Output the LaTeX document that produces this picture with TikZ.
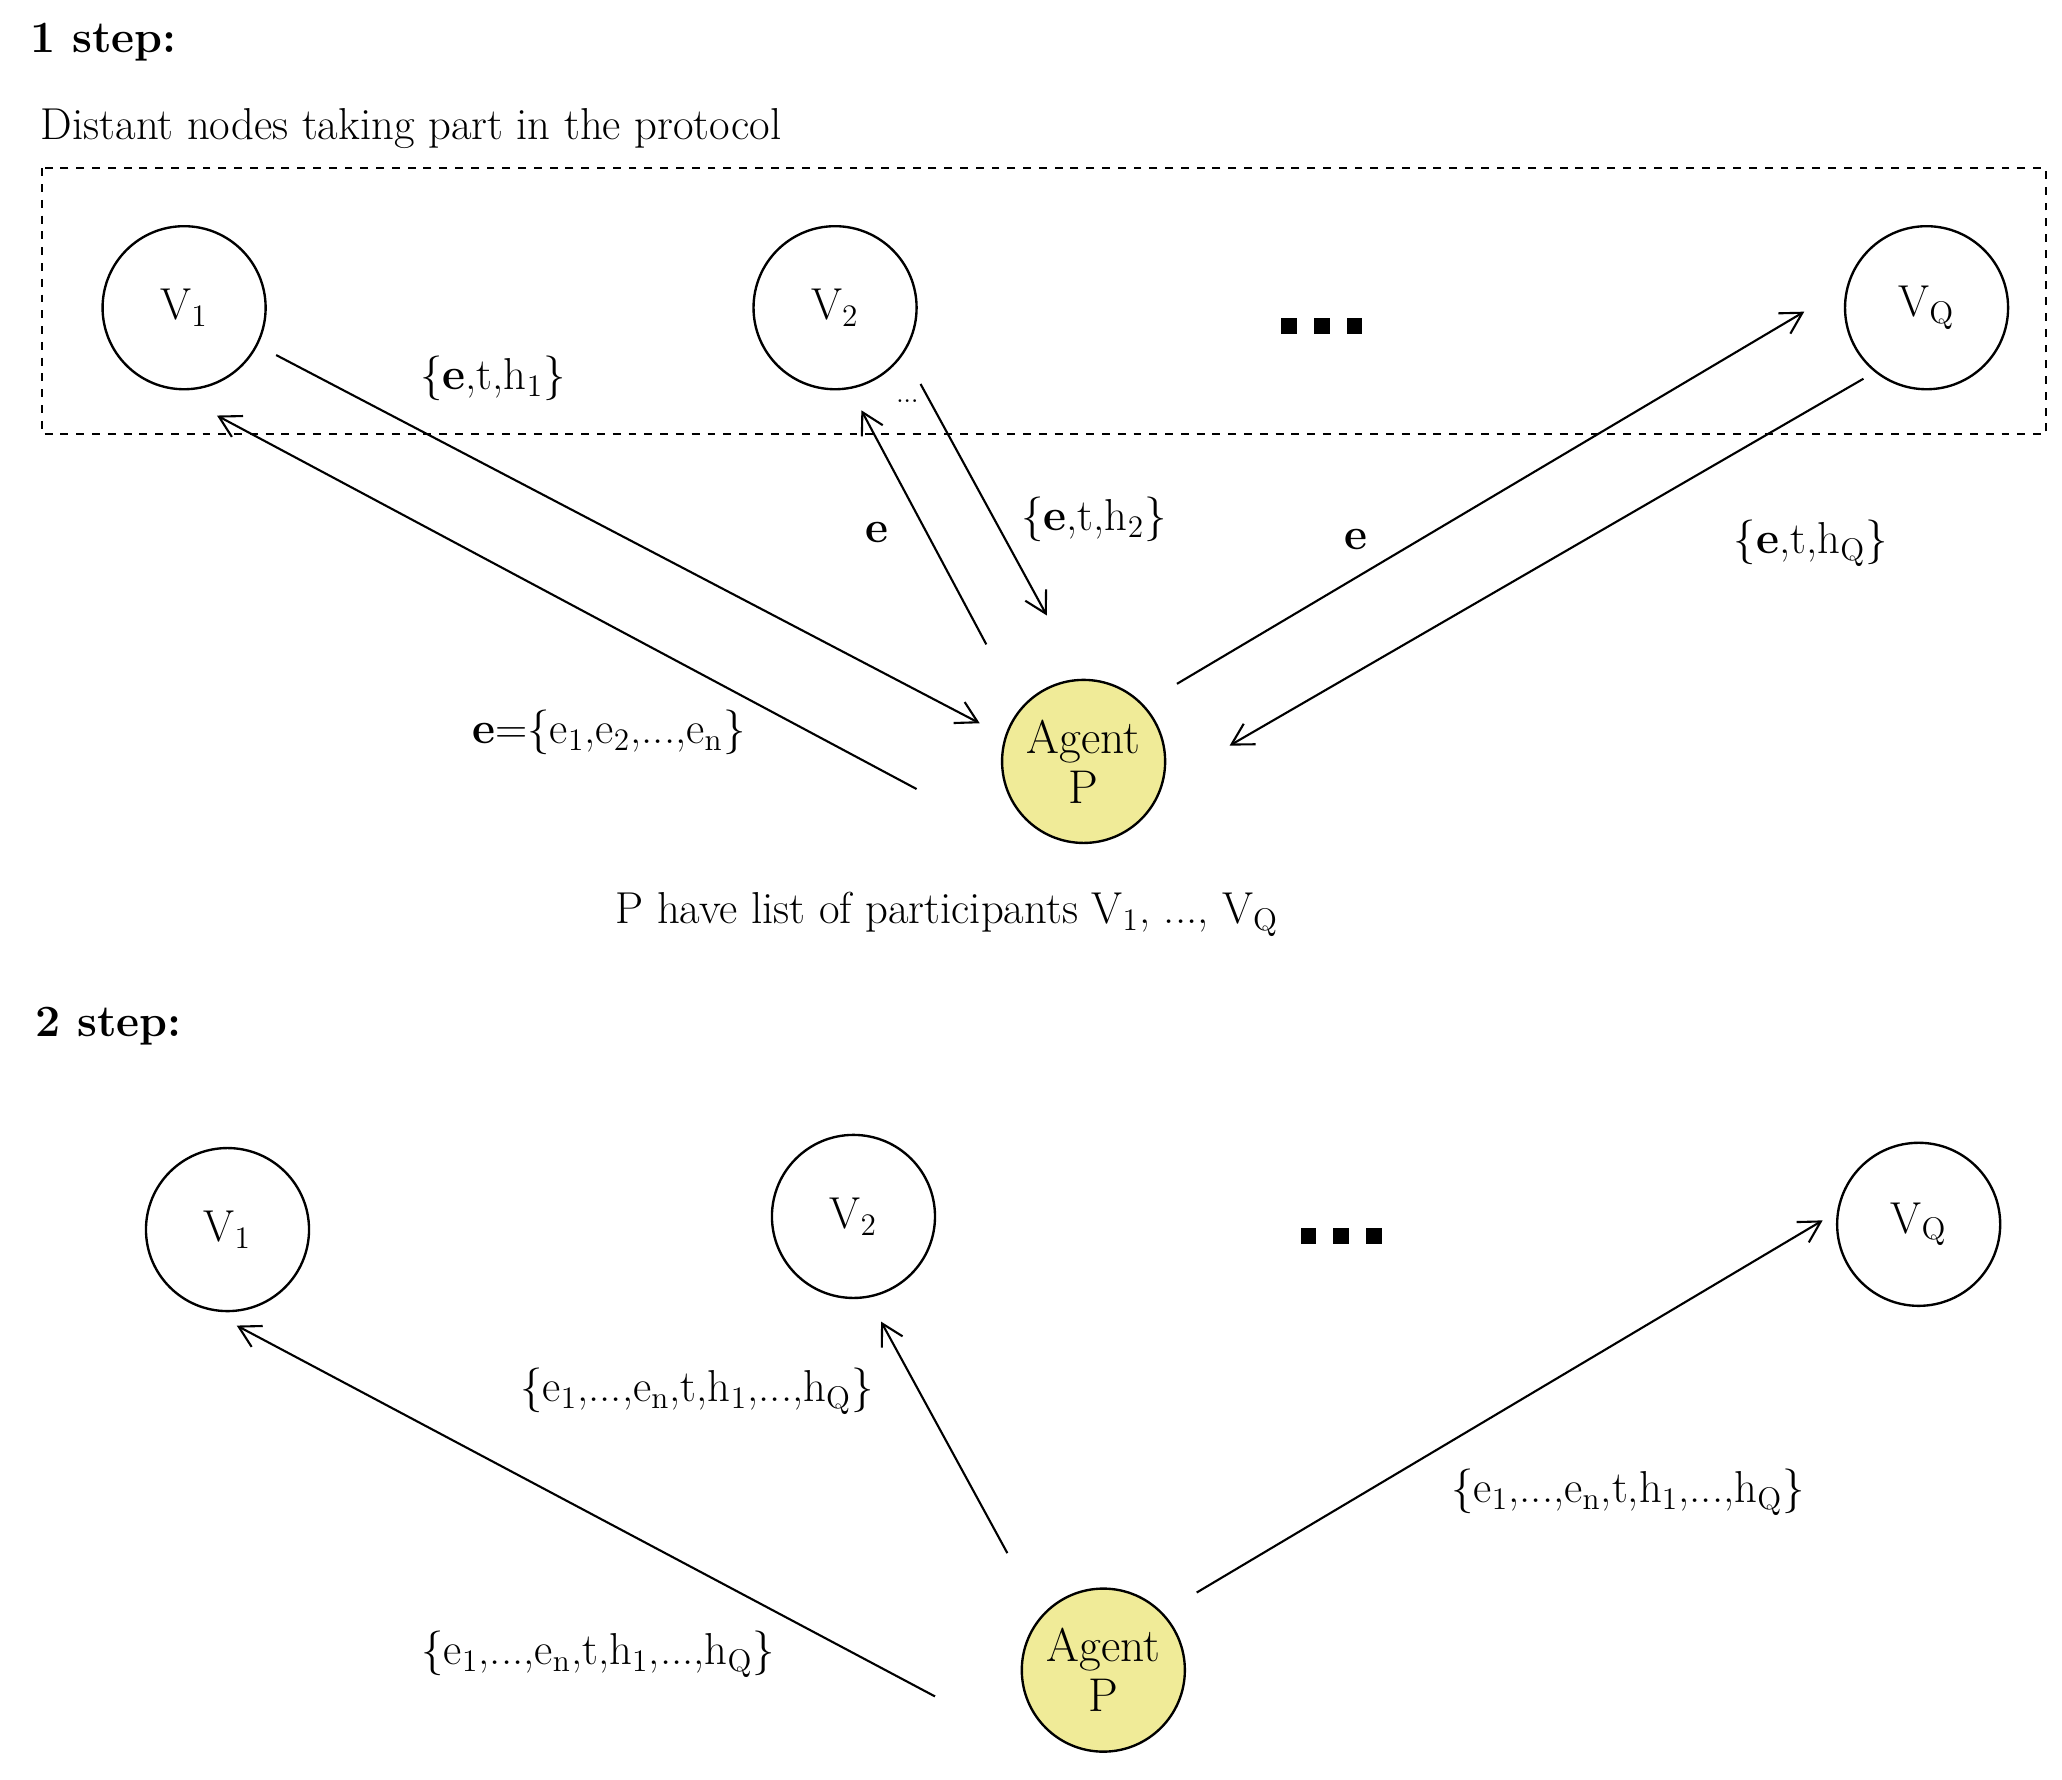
\documentclass[tikz,border=0pt]{standalone}
\usetikzlibrary{arrows.meta}
\definecolor{agentY}{HTML}{F0EB98}
\newcommand{\sbs}[1]{\textsubscript{#1}}
\begin{document}
\begin{tikzpicture}[x=0.5pt,y=-0.5pt,
  every node/.style={font=\fontsize{17}{20}\selectfont},
  vn/.style={circle,draw,line width=0.9pt,minimum size=62pt,inner sep=0pt},
  ag/.style={vn,fill=agentY,align=center,font=\fontsize{18}{19}\selectfont},
  ar/.style={line width=0.8pt,-{Straight Barb[length=8pt,width=9pt]}},
  lb/.style={inner sep=1pt}]
\useasboundingbox (0,0) rectangle (1568,1353);
\node[anchor=west,font=\fontsize{17}{20}\selectfont\bfseries] (s1) at (16,32) {1 step:};
\node[anchor=west] (dt) at (24,98) {Distant nodes taking part in the protocol};
\draw[dashed,line width=0.8pt] (32,128) rectangle (1556,330);
\node[vn] (a1) at (140,234) {V\sbs{1}};
\node[vn] (a2) at (635,234) {V\sbs{2}};
\node[vn] (aq) at (1465,234) {V\sbs{Q}};
\node[ag] (ap) at (824,579) {Agent\\P};
\foreach \i/\x in {1/980,2/1005,3/1030} \fill (\x-6,242) rectangle (\x+6,254);
% step 1 connector ends
\coordinate (c1) at (210,270); \coordinate (c2) at (745,550);
\coordinate (c3) at (697,600); \coordinate (c4) at (165,316);
\coordinate (c5) at (750,490); \coordinate (c6) at (655,312);
\coordinate (c7) at (700,292); \coordinate (c8) at (796,468);
\coordinate (c9) at (895,520); \coordinate (c10) at (1372,237);
\coordinate (c11) at (1417,288); \coordinate (c12) at (935,567);
\draw[ar] (c1) -- (c2); \draw[ar] (c3) -- (c4); \draw[ar] (c5) -- (c6);
\draw[ar] (c7) -- (c8); \draw[ar] (c9) -- (c10); \draw[ar] (c11) -- (c12);
\node[lb] (l1) at (375,288) {\{\textbf{e},t,h\sbs{1}\}};
\node[lb,font=\fontsize{10}{12}\selectfont] (l2) at (690,305) {...};
\node[lb,font=\fontsize{17}{20}\selectfont\bfseries] (l3) at (667,405) {e};
\node[lb] (l4) at (832,395) {\{\textbf{e},t,h\sbs{2}\}};
\node[lb,font=\fontsize{17}{20}\selectfont\bfseries] (l5) at (1031,410) {e};
\node[lb] (l6) at (1377,413) {\{\textbf{e},t,h\sbs{Q}\}};
\node[lb] (l7) at (463,557) {\textbf{e}=\{e\sbs{1},e\sbs{2},...,e\sbs{n}\}};
\node (pl) at (720,695) {P have list of participants V\sbs{1}, ..., V\sbs{Q}};
% step 2
\node[anchor=west,font=\fontsize{17}{20}\selectfont\bfseries] (s2) at (20,780) {2 step:};
\node[vn] (b1) at (173,935) {V\sbs{1}};
\node[vn] (b2) at (649,925) {V\sbs{2}};
\node[vn] (bq) at (1459,931) {V\sbs{Q}};
\node[ag] (bp) at (839,1270) {Agent\\P};
\foreach \i/\x in {1/995,2/1020,3/1045} \fill (\x-6,934) rectangle (\x+6,946);
\coordinate (d1) at (711,1290); \coordinate (d2) at (180,1008);
\coordinate (d3) at (766,1181); \coordinate (d4) at (670,1005);
\coordinate (d5) at (910,1211); \coordinate (d6) at (1386,928);
\draw[ar] (d1) -- (d2); \draw[ar] (d3) -- (d4); \draw[ar] (d5) -- (d6);
\node[lb] (m1) at (530,1058) {\{e\sbs{1},...,e\sbs{n},t,h\sbs{1},...,h\sbs{Q}\}};
\node[lb] (m2) at (1238,1135) {\{e\sbs{1},...,e\sbs{n},t,h\sbs{1},...,h\sbs{Q}\}};
\node[lb] (m3) at (455,1258) {\{e\sbs{1},...,e\sbs{n},t,h\sbs{1},...,h\sbs{Q}\}};
\end{tikzpicture}
\end{document}
